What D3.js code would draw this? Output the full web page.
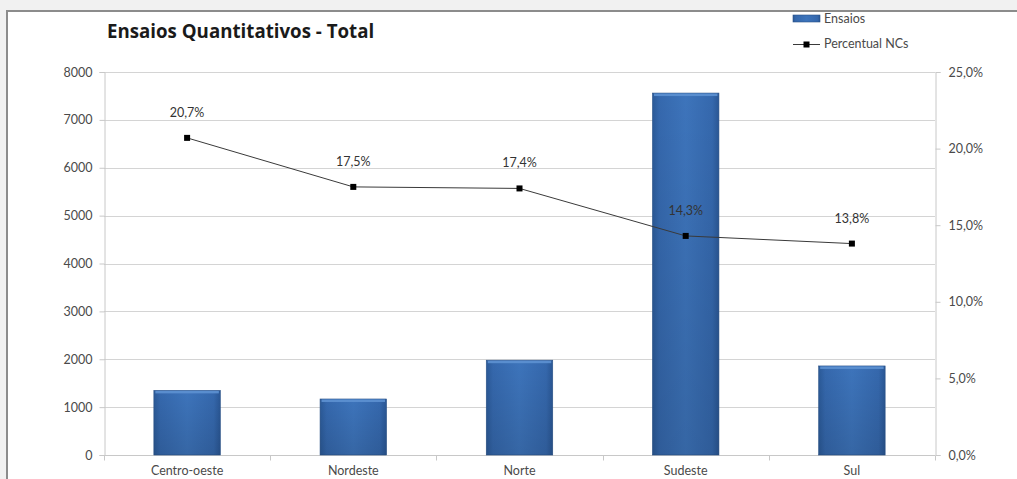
<!DOCTYPE html>
<html>
<head>
<meta charset="utf-8">
<script src="https://cdn.jsdelivr.net/npm/d3@7"></script>
<style>
  html, body { margin: 0; padding: 0; background: #f1f1f1; }
  svg { display: block; }
  text { font-family: Lato, "Open Sans", sans-serif; }
</style>
</head>
<body>
<svg id="chart" width="1017" height="479"></svg>
<script>
// Regions and their values
const regioes = ["Centro-oeste", "Nordeste", "Norte", "Sudeste", "Sul"];
const ensaios = [1350, 1170, 1980, 7560, 1860];
const percentualNCs = [20.7, 17.5, 17.4, 14.3, 13.8];
const ticksEnsaios = [0, 1000, 2000, 3000, 4000, 5000, 6000, 7000, 8000];
const ticksPercent = [0, 5, 10, 15, 20, 25];

const W = 1017, H = 479;
const svg = d3.select("#chart");

// White chart panel with grey frame
svg.append("rect").attr("x", 7).attr("y", 11).attr("width", W + 10).attr("height", H + 10)
  .attr("fill", "#ffffff").attr("stroke", "#8c8c8c").attr("stroke-width", 2);

const plot = { left: 104, right: 935, top: 72, bottom: 455 };

const x = d3.scaleBand().domain(regioes).range([plot.left, plot.right]).paddingInner(0).paddingOuter(0);
const y = d3.scaleLinear().domain([0, 8000]).range([plot.bottom, plot.top]);
const y2 = d3.scaleLinear().domain([0, 25]).range([plot.bottom, plot.top]);

// Gradients for the bars
const defs = svg.append("defs");
const g = defs.append("linearGradient").attr("id", "barGrad").attr("x1", "0").attr("x2", "1").attr("y1", "0").attr("y2", "0");
g.append("stop").attr("offset", "0%").attr("stop-color", "#2b5a98");
g.append("stop").attr("offset", "10%").attr("stop-color", "#3568ad");
g.append("stop").attr("offset", "50%").attr("stop-color", "#3d74bb");
g.append("stop").attr("offset", "90%").attr("stop-color", "#3568ad");
g.append("stop").attr("offset", "100%").attr("stop-color", "#2a5795");
const gv = defs.append("linearGradient").attr("id", "barShade").attr("x1", "0").attr("x2", "0").attr("y1", "0").attr("y2", "1");
gv.append("stop").attr("offset", "0%").attr("stop-color", "#000").attr("stop-opacity", 0);
gv.append("stop").attr("offset", "100%").attr("stop-color", "#000").attr("stop-opacity", 0.12);

const labelFont = "12.5px";
const labelColor = "#4a4a4a";

// Gridlines
svg.append("g").selectAll("line").data(ticksEnsaios).join("line")
  .attr("x1", plot.left).attr("x2", plot.right)
  .attr("y1", d => Math.round(y(d)) + 0.5).attr("y2", d => Math.round(y(d)) + 0.5)
  .attr("stroke", "#d4d4d4").attr("stroke-width", 1);

// Left axis
const axL = svg.append("g").attr("transform", `translate(${plot.left + 0.5},0)`)
  .call(d3.axisLeft(y).tickValues(ticksEnsaios).tickSize(5).tickPadding(7).tickFormat(d3.format("d")));
axL.select(".domain").attr("stroke", "#c8c8c8");
axL.selectAll(".tick line").attr("stroke", "#c8c8c8");
axL.selectAll("text").attr("fill", labelColor).style("font-size", labelFont).style("font-family", "Lato, sans-serif");

// Right axis
const fmtPct = d => d3.format(".1f")(d).replace(".", ",") + "%";
const axR = svg.append("g").attr("transform", `translate(${plot.right + 0.5},0)`)
  .call(d3.axisRight(y2).tickValues(ticksPercent).tickSize(5).tickPadding(8).tickFormat(fmtPct));
axR.select(".domain").attr("stroke", "#c8c8c8");
axR.selectAll(".tick line").attr("stroke", "#c8c8c8");
axR.selectAll("text").attr("fill", labelColor).style("font-size", labelFont).style("font-family", "Lato, sans-serif");

// Bottom axis: tick marks between categories
const bottomG = svg.append("g").attr("transform", `translate(0,${plot.bottom + 0.5})`);
bottomG.append("line").attr("x1", plot.left).attr("x2", plot.right).attr("stroke", "#c8c8c8");
const bounds = regioes.map(r => x(r)).concat([plot.right]);
bottomG.selectAll("line.tk").data(bounds).join("line").attr("class", "tk")
  .attr("x1", d => Math.round(d) + 0.5).attr("x2", d => Math.round(d) + 0.5)
  .attr("y1", 0).attr("y2", 5).attr("stroke", "#c8c8c8");
bottomG.selectAll("text").data(regioes).join("text")
  .attr("x", d => x(d) + x.bandwidth() / 2).attr("y", 19)
  .attr("text-anchor", "middle").attr("fill", labelColor).style("font-size", labelFont)
  .text(d => d);

// Bars
const barW = x.bandwidth() * 0.4;
const bars = svg.append("g");
regioes.forEach((r, i) => {
  const bx = x(r) + (x.bandwidth() - barW) / 2;
  const by = y(ensaios[i]);
  const bh = y(0) - by;
  bars.append("rect").attr("x", bx).attr("y", by).attr("width", barW).attr("height", bh)
    .attr("fill", "url(#barGrad)").attr("stroke", "#2a5288").attr("stroke-width", 0.6);
  bars.append("rect").attr("x", bx).attr("y", by).attr("width", barW).attr("height", bh)
    .attr("fill", "url(#barShade)");
  bars.append("rect").attr("x", bx + 1.5).attr("y", by + 0.5).attr("width", barW - 3).attr("height", 2.5)
    .attr("fill", "#5d91d2").attr("opacity", 0.9);
});

// Percentage line
const cx = d => x(d) + x.bandwidth() / 2;
const line = d3.line().x((d, i) => cx(regioes[i])).y(d => y2(d));
svg.append("path").datum(percentualNCs).attr("d", line)
  .attr("fill", "none").attr("stroke", "#3a3a3a").attr("stroke-width", 1);
svg.append("g").selectAll("rect").data(percentualNCs).join("rect")
  .attr("x", (d, i) => cx(regioes[i]) - 3).attr("y", d => y2(d) - 3)
  .attr("width", 6).attr("height", 6).attr("fill", "#000");

// Data labels
svg.append("g").selectAll("text").data(percentualNCs).join("text")
  .attr("x", (d, i) => cx(regioes[i])).attr("y", d => y2(d) - 21)
  .attr("text-anchor", "middle").attr("fill", "#333").style("font-size", labelFont)
  .text(d => fmtPct(d));

// Title
svg.append("text").attr("x", 107).attr("y", 38).attr("fill", "#1a1a1a")
  .style("font-size", "18.7px").style("font-weight", "bold").style("font-family", "'Open Sans', sans-serif")
  .text("Ensaios Quantitativos - Total");

// Legend
const leg = svg.append("g");
leg.append("rect").attr("x", 793).attr("y", 15).attr("width", 27).attr("height", 7)
  .attr("fill", "url(#barGrad)").attr("stroke", "#2a5288").attr("stroke-width", 0.6);
leg.append("text").attr("x", 824).attr("y", 23).attr("fill", labelColor).style("font-size", labelFont).text("Ensaios");
leg.append("line").attr("x1", 793).attr("x2", 820).attr("y1", 44.5).attr("y2", 44.5).attr("stroke", "#3a3a3a");
leg.append("rect").attr("x", 803.5).attr("y", 41.5).attr("width", 6).attr("height", 6).attr("fill", "#000");
leg.append("text").attr("x", 824).attr("y", 48).attr("fill", labelColor).style("font-size", labelFont).text("Percentual NCs");
</script>
</body>
</html>
